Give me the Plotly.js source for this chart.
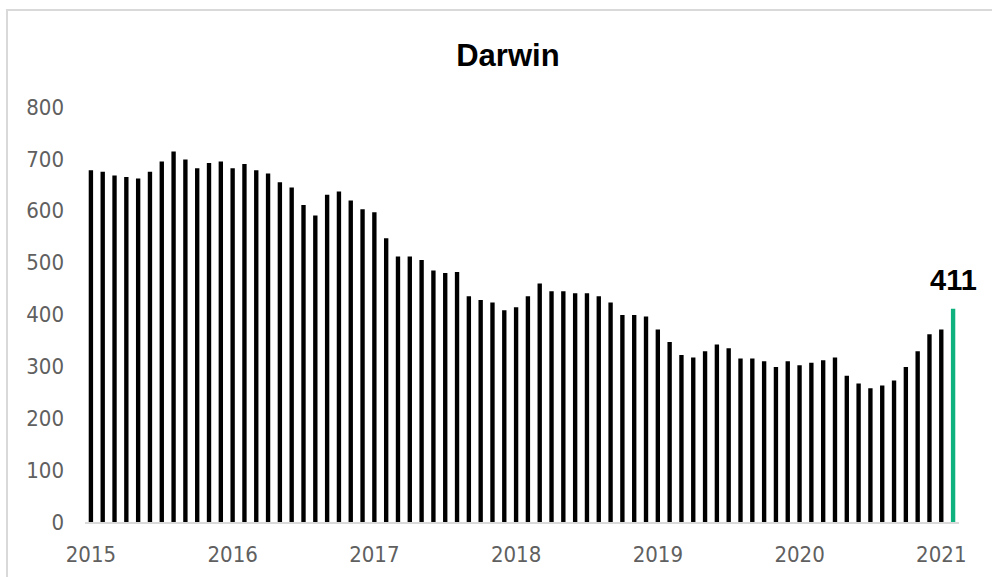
<!DOCTYPE html>
<html>
<head>
<meta charset="utf-8">
<script src="https://cdn.plot.ly/plotly-3.0.1.min.js"></script>
<style>
  html, body { margin: 0; padding: 0; background: #ffffff; }
  #frame { position: absolute; left: 6px; top: 9px; width: 1100px; height: 700px;
           border-top: 2px solid #d9d9d9; border-left: 2px solid #d9d9d9; }
  #chart { position: absolute; left: 0; top: 0; width: 992px; height: 577px; }
</style>
</head>
<body>
<div id="frame"></div>
<div id="chart"></div>
<script>
// Monthly values, Jan 2015 – Feb 2021
const months = [
  "2015-01","2015-02","2015-03","2015-04","2015-05","2015-06","2015-07","2015-08","2015-09","2015-10","2015-11","2015-12",
  "2016-01","2016-02","2016-03","2016-04","2016-05","2016-06","2016-07","2016-08","2016-09","2016-10","2016-11","2016-12",
  "2017-01","2017-02","2017-03","2017-04","2017-05","2017-06","2017-07","2017-08","2017-09","2017-10","2017-11","2017-12",
  "2018-01","2018-02","2018-03","2018-04","2018-05","2018-06","2018-07","2018-08","2018-09","2018-10","2018-11","2018-12",
  "2019-01","2019-02","2019-03","2019-04","2019-05","2019-06","2019-07","2019-08","2019-09","2019-10","2019-11","2019-12",
  "2020-01","2020-02","2020-03","2020-04","2020-05","2020-06","2020-07","2020-08","2020-09","2020-10","2020-11","2020-12",
  "2021-01","2021-02"
];
const values = [
  678, 675, 668, 665, 662, 675, 695, 714, 699, 682, 692, 695,
  682, 690, 678, 672, 655, 645, 611, 591, 631, 637, 620, 603,
  597, 547, 512, 512, 505, 485, 480, 482, 435, 428, 423, 408,
  414, 435, 460, 445, 445, 441, 441, 435, 423, 399, 399, 396,
  371, 347, 322, 317, 329, 342, 335, 315, 315, 310, 299, 310,
  302, 307, 312, 317, 282, 267, 258, 263, 273, 299, 329, 362,
  371, 411
];
const tickMonths = ["2015-01","2016-01","2017-01","2018-01","2019-01","2020-01","2021-01"];
const tickLabels = ["2015","2016","2017","2018","2019","2020","2021"];
const yTicks = [0,100,200,300,400,500,600,700,800];
const chartTitle = "Darwin";

const lastIdx = values.length - 1;
const colors = values.map((v, i) => i === lastIdx ? "#0fb27e" : "#000000");

const trace = {
  type: "bar",
  x: months,
  y: values,
  marker: { color: colors, line: { width: 0 } },
  hoverinfo: "x+y"
};

const narrow = "'Liberation Sans Narrow', 'DejaVu Sans Condensed', 'Liberation Sans', Arial, sans-serif";

const layout = {
  width: 992,
  height: 577,
  margin: { l: 85, r: 33, t: 107, b: 55, pad: 0 },
  paper_bgcolor: "rgba(0,0,0,0)",
  plot_bgcolor: "rgba(0,0,0,0)",
  showlegend: false,
  bargap: 0.63,
  title: {
    text: "<b>" + chartTitle + "</b>",
    font: { family: "'Liberation Sans', Arial, sans-serif", size: 31, color: "#000000" },
    x: 0.512, xanchor: "center",
    y: 0.905, yanchor: "middle", yref: "container"
  },
  xaxis: {
    type: "category",
    categoryorder: "array",
    categoryarray: months,
    range: [-0.5, months.length - 0.5],
    tickmode: "array",
    tickvals: tickMonths,
    ticktext: tickLabels,
    ticks: "",
    ticklabelstandoff: 12,
    showgrid: false,
    zeroline: false,
    showline: true,
    linecolor: "#d9d9d9",
    linewidth: 2,
    tickfont: { family: narrow, size: 22, color: "#606060" },
    fixedrange: true
  },
  yaxis: {
    range: [0, 800],
    tickmode: "array",
    tickvals: yTicks,
    ticks: "",
    ticklabelstandoff: 20,
    showgrid: false,
    zeroline: false,
    showline: false,
    tickfont: { family: narrow, size: 22, color: "#606060" },
    fixedrange: true
  },
  annotations: [{
    x: months[lastIdx],
    y: values[lastIdx],
    xref: "x", yref: "y",
    text: "<b>" + values[lastIdx] + "</b>",
    showarrow: false,
    xanchor: "center",
    yanchor: "bottom",
    yshift: 11,
    font: { family: "'Liberation Sans', Arial, sans-serif", size: 29, color: "#000000" }
  }]
};

Plotly.newPlot("chart", [trace], layout, { displayModeBar: false, staticPlot: true });
</script>
</body>
</html>
